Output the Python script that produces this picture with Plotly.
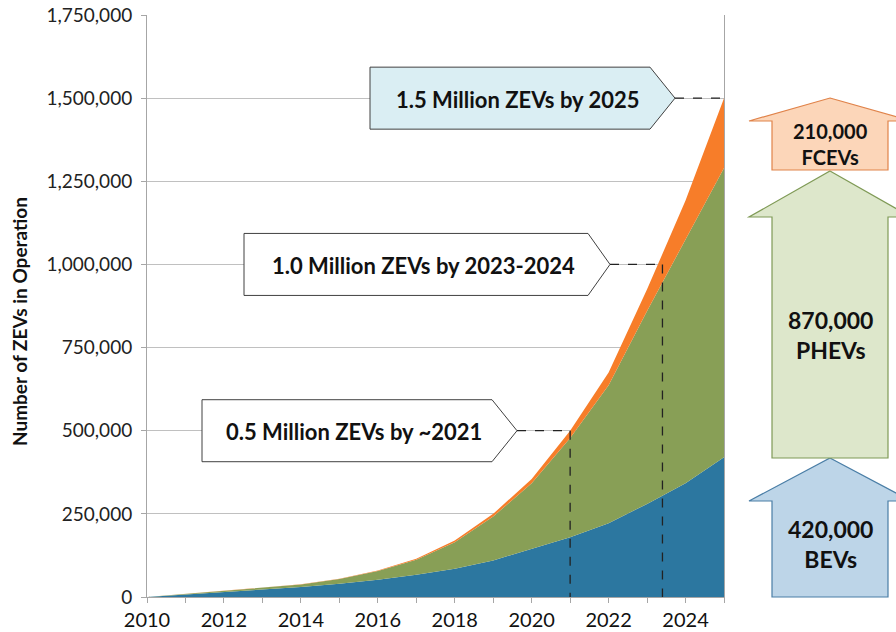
import plotly.graph_objects as go

# ---------------- data ----------------
years = list(range(2010, 2026))
bev = [0, 7000, 15000, 22000, 30000, 40000, 52000, 67000, 85000, 110000,
       145000, 180000, 222000, 280000, 342000, 420000]
phev = [0, 2000, 3000, 5000, 7500, 14000, 26000, 45000, 80000, 132000,
        197000, 298000, 415000, 580000, 735000, 870000]
fcev = [0, 0, 0, 0, 500, 1000, 2000, 3000, 5000, 8000,
        13000, 22000, 38000, 65000, 115000, 210000]

milestone_years = [2021, 2023.4, 2025]
milestone_values = [500000, 1000000, 1500000]
milestone_labels = ["0.5 Million ZEVs by ~2021", "1.0 Million ZEVs by 2023-2024",
                    "1.5 Million ZEVs by 2025"]

segment_labels = ["420,000<br>BEVs", "870,000<br>PHEVs", "210,000<br>FCEVs"]

y_ticks = [0, 250000, 500000, 750000, 1000000, 1250000, 1500000, 1750000]
x_ticks = list(range(2010, 2026, 2))

# ---------------- geometry helpers (pixel -> paper) ----------------
L, R, T, B = 147, 724, 15, 597


def px(x):
    return (x - L) / (R - L)


def py(y):
    return (B - y) / (B - T)


FONT = "Lato, 'Open Sans', sans-serif"

fig = go.Figure()
colors = ["#2C77A0", "#889F56", "#F77D29"]
names = ["BEV", "PHEV", "FCEV"]
for vals, c, n in zip([bev, phev, fcev], colors, names):
    fig.add_trace(go.Scatter(x=years, y=vals, name=n, mode="lines",
                             stackgroup="one", line=dict(width=0, color=c),
                             fillcolor=c, hoverinfo="x+y"))

shapes = []
annotations = []

# callout boxes (pentagon arrows): left, body-right, tip x ; half height
callout_px = [(202, 492, 517), (244, 588, 610), (370, 650, 675)]
callout_fill = ["white", "white", "#DAEEF3"]
half_h = 31
for (xl, xb, xt), yr, val, lab, fc in zip(callout_px, milestone_years,
                                          milestone_values, milestone_labels,
                                          callout_fill):
    yc = B - val / 1750000 * (B - T)
    path = (f"M {px(xl)},{py(yc - half_h)} L {px(xb)},{py(yc - half_h)} "
            f"L {px(xt)},{py(yc)} L {px(xb)},{py(yc + half_h)} "
            f"L {px(xl)},{py(yc + half_h)} Z")
    shapes.append(dict(type="path", path=path, xref="paper", yref="paper",
                       fillcolor=fc, line=dict(color="#404040", width=1),
                       layer="above"))
    annotations.append(dict(x=px((xl + xb) / 2 + 7), y=py(yc + 1), xref="paper",
                            yref="paper", text=f"<b>{lab}</b>", showarrow=False,
                            font=dict(family=FONT, size=22, color="#111"),
                            xanchor="center", yanchor="middle"))
    # dashed horizontal from tip to curve
    shapes.append(dict(type="line", xref="paper", yref="y", x0=px(xt), y0=val,
                       x1=(yr - 2010) / 15, y1=val,
                       line=dict(color="#222", width=1.3, dash="dash"),
                       layer="above"))
    if yr < 2025:
        shapes.append(dict(type="line", xref="x", yref="y", x0=yr, y0=val,
                           x1=yr, y1=0,
                           line=dict(color="#222", width=1.3, dash="dash"),
                           layer="above"))

# right-side arrows: tip y, shoulder y, bottom y, text centre y
arrow_px = [(458, 501, 597, 544), (171, 217, 458, 335), (98, 121, 170, 144)]
arrow_fill = ["#BDD5E8", "#DDE7CB", "#FCD6B9"]
arrow_line = ["#4A7EA6", "#7F9A56", "#E0834A"]
arrow_font = [23, 23, 20]
cx, sl, sr, bl, br = 830, 749, 911, 772, 888
for (ty, sy, by, tc), fcol, lcol, lab, fs in zip(arrow_px, arrow_fill,
                                                 arrow_line, segment_labels,
                                                 arrow_font):
    path = (f"M {px(cx)},{py(ty)} L {px(sr)},{py(sy)} L {px(br)},{py(sy)} "
            f"L {px(br)},{py(by)} L {px(bl)},{py(by)} L {px(bl)},{py(sy)} "
            f"L {px(sl)},{py(sy)} Z")
    shapes.append(dict(type="path", path=path, xref="paper", yref="paper",
                       fillcolor=fcol, line=dict(color=lcol, width=1.2),
                       layer="above"))
    annotations.append(dict(x=px(cx), y=py(tc), xref="paper",
                            yref="paper", text=f"<b>{lab}</b>", showarrow=False,
                            font=dict(family=FONT, size=fs, color="#111"),
                            xanchor="center", yanchor="middle"))

# y-axis title
annotations.append(dict(x=px(19), y=py(322), xref="paper", yref="paper",
                        text="<b>Number of ZEVs in Operation</b>",
                        textangle=-90, showarrow=False,
                        font=dict(family=FONT, size=19, color="#111"),
                        xanchor="center", yanchor="middle"))

fig.update_layout(
    width=896, height=632,
    margin=dict(l=L, r=896 - R, t=T, b=632 - B, autoexpand=False),
    paper_bgcolor="white", plot_bgcolor="white",
    showlegend=False,
    shapes=shapes, annotations=annotations,
    font=dict(family=FONT, color="#111"),
)
fig.update_xaxes(range=[2010, 2025], tickvals=x_ticks, ticks="outside",
                 ticklen=5, tickcolor="#A6A6A6", showline=True,
                 linecolor="#A6A6A6", linewidth=1, showgrid=False,
                 zeroline=False, automargin=False,
                 minor=dict(dtick=1, tick0=2010, ticks="outside", ticklen=5,
                            tickcolor="#A6A6A6", showgrid=False),
                 tickfont=dict(family=FONT, size=20, color="#111"))
fig.update_yaxes(range=[0, 1750000], tickvals=y_ticks, tickformat=",",
                 ticks="outside", ticklen=5, tickcolor="#A6A6A6",
                 showline=True, linecolor="#A6A6A6", linewidth=1, mirror=True,
                 showgrid=True, gridcolor="#C0C0C0", gridwidth=1,
                 zeroline=False, automargin=False, ticklabelstandoff=5,
                 tickfont=dict(family=FONT, size=19, color="#222"))

fig.write_html(
    "out.html",
    config={"displayModeBar": False},
    post_script="document.body.style.margin='0px';"
                "document.body.style.overflow='hidden';",
)
